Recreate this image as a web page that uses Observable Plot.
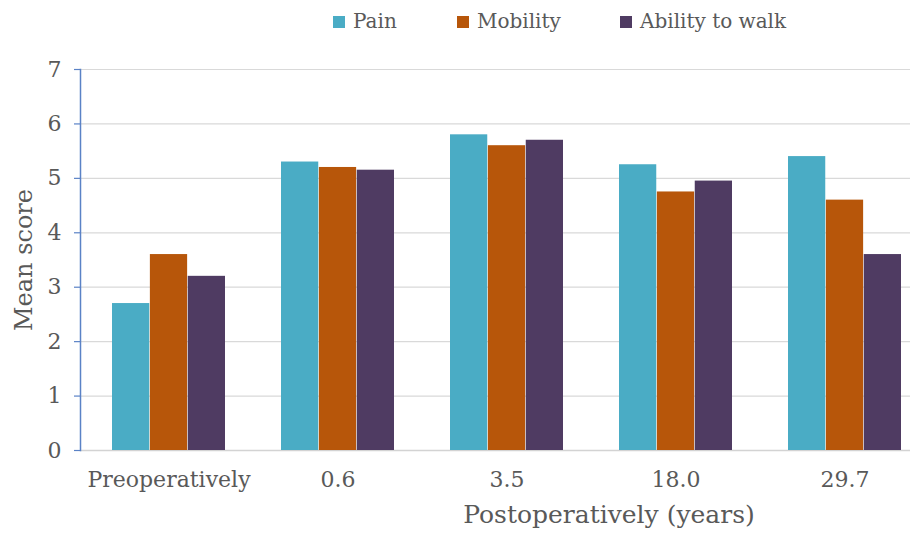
<!DOCTYPE html>
<html><head><meta charset="utf-8">
<script src="https://cdn.jsdelivr.net/npm/d3@7"></script>
<script src="https://cdn.jsdelivr.net/npm/@observablehq/plot@0.6"></script>
<style>
body{margin:0;background:#fff;font-family:"DejaVu Serif",serif;color:#595959;overflow:hidden}
#legend{position:relative;height:40px;width:921px;font-size:20px}
.item{position:absolute;top:8px;height:26px;display:flex;align-items:center;white-space:nowrap;line-height:26px}
.sw{width:12px;height:12px;margin-right:8px;margin-top:2px}
</style></head><body>
<div id="legend"></div><div id="chart"></div>
<script>
const groups = ["Preoperatively", "0.6", "3.5", "18.0", "29.7"];
const seriesNames = ["Pain", "Mobility", "Ability to walk"];
const pain = [2.7, 5.3, 5.8, 5.25, 5.4];
const mobility = [3.6, 5.2, 5.6, 4.75, 4.6];
const walk = [3.2, 5.15, 5.7, 4.95, 3.6];
const colors = ["#4aacc5", "#b7560a", "#4f3b62"];
const yTicks = [0, 1, 2, 3, 4, 5, 6, 7];
const yTitle = "Mean score";
const xTitle = "Postoperatively (years)";

const seriesValues = [pain, mobility, walk];
const data = seriesValues.map((vals, s) => groups.map((g, i) => ({group: g, series: seriesNames[s], value: vals[i]})));

// legend
const legendPos = [333, 457, 620];
const legend = document.getElementById("legend");
seriesNames.forEach((n, i) => {
  const it = document.createElement("div");
  it.className = "item";
  it.style.left = legendPos[i] + "px";
  it.innerHTML = `<span class="sw" style="background:${colors[i]}"></span><span>${n}</span>`;
  legend.appendChild(it);
});

const W = 921, H = 497, mL = 80, mR = -12, mT = 29, mB = 87;
const xOpts = {type: "band", domain: groups, range: [mL, W - mR], paddingInner: 0.33, paddingOuter: 0.18};
const bw = Plot.scale({x: xOpts}).bandwidth;
const third = bw / 3;

const chart = Plot.plot({
  width: W, height: H,
  marginLeft: mL, marginRight: mR, marginTop: mT, marginBottom: mB,
  style: {fontFamily: "DejaVu Serif, serif", fontSize: "22px", color: "#595959", background: "white", overflow: "hidden"},
  x: {domain: groups, paddingInner: 0.33, paddingOuter: 0.18, axis: null},
  y: {domain: [0, 7], axis: null},
  marks: [
    Plot.ruleY(yTicks.slice(1), {stroke: "#d9d9d9", strokeWidth: 1.2, insetRight: 23}),
    Plot.ruleY([0], {stroke: "#d3d3d3", strokeWidth: 1.5, insetRight: 23}),
    Plot.barY(data[0], {x: "group", y: "value", fill: colors[0], insetRight: 2 * third}),
    Plot.barY(data[1], {x: "group", y: "value", fill: colors[1], insetLeft: third, insetRight: third}),
    Plot.barY(data[2], {x: "group", y: "value", fill: colors[2], insetLeft: 2 * third}),
    Plot.axisY({ticks: yTicks, tickSize: 6, tickPadding: 13, stroke: "#5a82c6", strokeWidth: 1.2, fontSize: 22, label: null, tickFormat: d => String(d)}),
    Plot.frame({anchor: "left", stroke: "#5a82c6", strokeWidth: 1.5}),
    Plot.axisX({tickSize: 0, tickPadding: 21, fontSize: 22, label: null}),
    Plot.text([yTitle], {frameAnchor: "left", textAnchor: "middle", lineAnchor: "middle", dx: -56, rotate: -90, fontSize: 24, fill: "#595959"}),
    Plot.text([xTitle], {frameAnchor: "bottom", dx: 102, dy: 72, fontSize: 25, fill: "#595959"})
  ]
});
document.getElementById("chart").appendChild(chart);
</script>
</body></html>
